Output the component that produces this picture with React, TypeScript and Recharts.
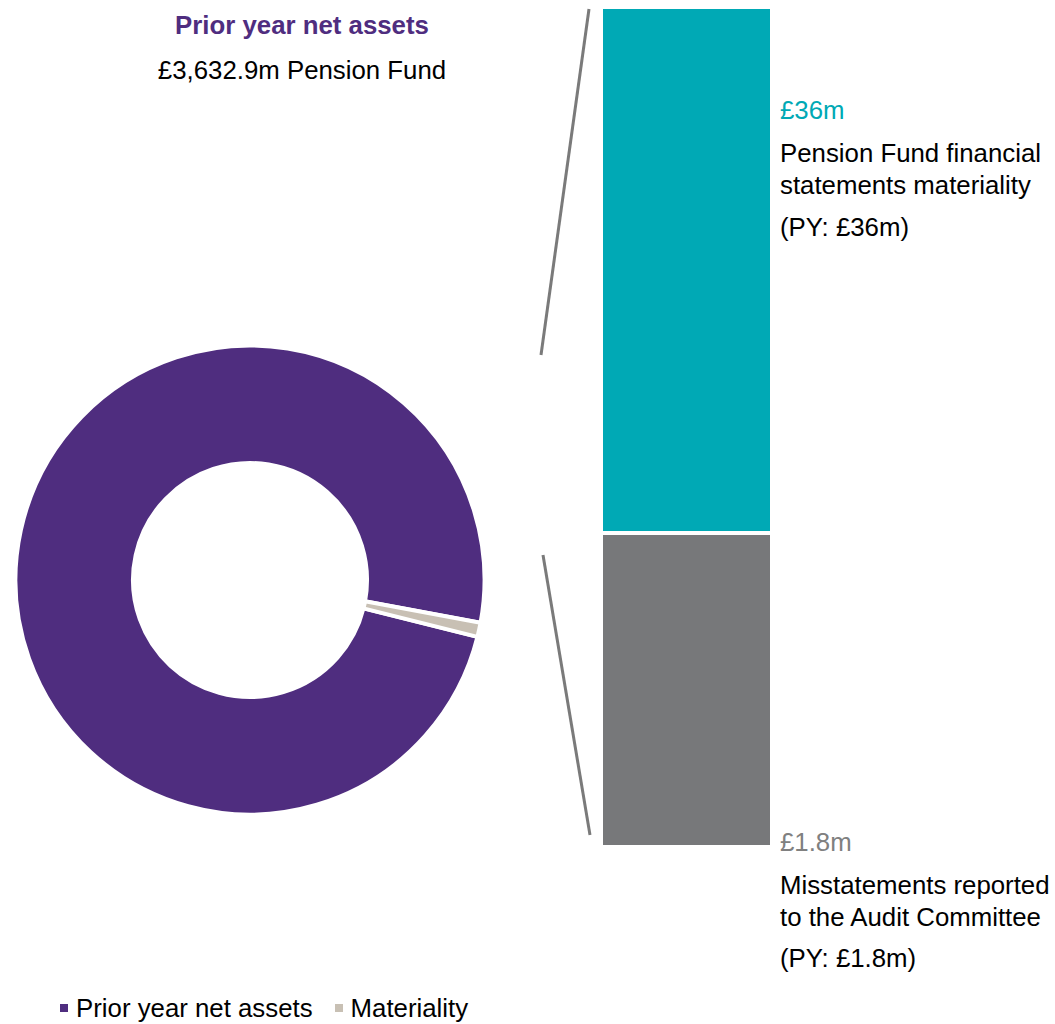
import { Bar, BarChart, Cell, Legend, Pie, PieChart, XAxis, YAxis } from "recharts";

// donut data (£m)
const pieNames = ["Prior year net assets", "Materiality"];
const pieValues = [3632.9, 36];
const pieColors = ["#4F2D7F", "#C8C0B4"];

// stacked column: segment heights as drawn (not to scale with the £ figures)
const barCategory = ["Materiality"];
const misstatementHeight = [21.5];
const materialityHeight = [36];

const FONT = "'Liberation Sans', Arial, sans-serif";

const pieData = pieNames.map((name, i) => ({ name, value: pieValues[i] }));
const barData = barCategory.map((name, i) => ({
  name,
  misstatement: misstatementHeight[i],
  materiality: materialityHeight[i],
}));

function PieLegend() {
  return (
    <div style={{ display: "flex", alignItems: "center", fontFamily: FONT, fontSize: 25.8, lineHeight: "30px", color: "#000", whiteSpace: "nowrap" }}>
      {pieNames.map((n, i) => (
        <div key={n} style={{ display: "flex", alignItems: "center", marginRight: 22 }}>
          <span style={{ width: 8, height: 8, background: pieColors[i], display: "inline-block", marginRight: 8 }} />
          <span>{n}</span>
        </div>
      ))}
    </div>
  );
}

const textStyle = { position: "absolute" as const, fontFamily: FONT, fontSize: 25.8, lineHeight: "32px", whiteSpace: "nowrap" as const };

export default function App() {
  return (
    <div style={{ position: "absolute", left: 0, top: 0, width: 1055, height: 1024, background: "#fff", overflow: "hidden" }}>
      <div style={{ position: "absolute", left: 0, top: 0 }}>
        <PieChart width={1055} height={1024} margin={{ top: 0, right: 0, bottom: 0, left: 0 }}>
          <Pie
            data={pieData}
            dataKey="value"
            nameKey="name"
            cx={250}
            cy={580}
            innerRadius={117}
            outerRadius={234.5}
            startAngle={-10.5}
            endAngle={349.5}
            stroke="#fff"
            strokeWidth={4}
            isAnimationActive={false}
          >
            {pieData.map((d, i) => (
              <Cell key={d.name} fill={pieColors[i]} />
            ))}
          </Pie>
          <Legend content={() => <PieLegend />} wrapperStyle={{ position: "absolute", left: 60, top: 993, width: 700 }} />
        </PieChart>
      </div>

      <div style={{ position: "absolute", left: 0, top: 0 }}>
        <BarChart
          width={1055}
          height={1024}
          data={barData}
          margin={{ top: 7, right: 283, left: 601, bottom: 177 }}
          barCategoryGap={0}
        >
          <XAxis dataKey="name" hide />
          <YAxis hide domain={[0, "dataMax"]} />
          <Bar dataKey="misstatement" stackId="a" fill="#77787A" stroke="#fff" strokeWidth={4} isAnimationActive={false} />
          <Bar dataKey="materiality" stackId="a" fill="#00A9B5" stroke="#fff" strokeWidth={4} isAnimationActive={false} />
        </BarChart>
      </div>

      <svg width={1055} height={1024} style={{ position: "absolute", left: 0, top: 0, pointerEvents: "none" }}>
        <line x1={589} y1={9} x2={541} y2={355} stroke="#7A7A7A" strokeWidth={3} />
        <line x1={543} y1={555} x2={590} y2={835} stroke="#7A7A7A" strokeWidth={3} />
      </svg>

      <div style={{ ...textStyle, left: 302, top: 9, transform: "translateX(-50%)", fontWeight: "bold", color: "#4F2D7F" }}>
        Prior year net assets
      </div>
      <div style={{ ...textStyle, left: 302, top: 54, transform: "translateX(-50%)", color: "#000" }}>
        £3,632.9m Pension Fund
      </div>

      <div style={{ ...textStyle, left: 780, top: 94, color: "#00A9B5" }}>£36m</div>
      <div style={{ ...textStyle, left: 780, top: 137, color: "#000" }}>
        Pension Fund financial
        <br />
        statements materiality
      </div>
      <div style={{ ...textStyle, left: 780, top: 211, color: "#000" }}>(PY: £36m)</div>

      <div style={{ ...textStyle, left: 780, top: 826, color: "#808080" }}>£1.8m</div>
      <div style={{ ...textStyle, left: 780, top: 869, color: "#000" }}>
        Misstatements reported
        <br />
        to the Audit Committee
      </div>
      <div style={{ ...textStyle, left: 780, top: 942, color: "#000" }}>(PY: £1.8m)</div>
    </div>
  );
}
